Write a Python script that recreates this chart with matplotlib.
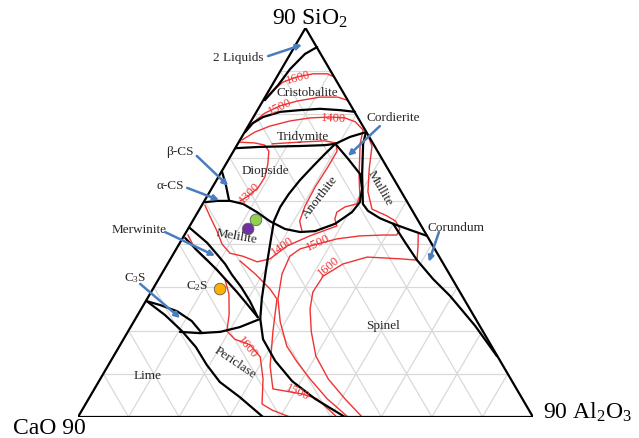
import numpy as np
import matplotlib
matplotlib.use('Agg')
import matplotlib.pyplot as plt

plt.rcParams['font.family'] = ['Liberation Serif', 'DejaVu Serif']
plt.rcParams['mathtext.fontset'] = 'custom'
plt.rcParams['mathtext.rm'] = 'Liberation Serif'
plt.rcParams['mathtext.it'] = 'Liberation Serif:italic'

TOTAL = 90  # each corner is 90 wt%, the rest is MgO

# phase field boundaries as (Al2O3, SiO2) wt%, CaO is the balance
two_liquids = [(4.5, 85.6), (2.9, 84.0), (1.7, 80.5), (1.2, 76.8), (0.3, 73.3)]
cristobalite_tridymite = [(0.1, 65.9), (0.6, 68.0), (1.9, 69.4), (4.7, 70.6), (8.4, 71.0),
                          (12.2, 71.3), (16.3, 71.0), (19.5, 70.6)]
tridymite_base = [(0.1, 62.2), (4.8, 62.5), (12.6, 62.7), (17.4, 62.9), (19.3, 63.2)]
tridymite_cordierite = [(19.3, 63.2), (21.4, 64.8), (24.0, 65.9)]
mullite_left = [(24.0, 65.9), (24.8, 63.2), (28.1, 56.2), (31.7, 49.3), (33.5, 47.7),
                (36.7, 46.0), (40.0, 44.7), (44.0, 43.3), (48.1, 41.9)]
anorthite_melilite = [(19.3, 63.2), (23.6, 59.7), (27.7, 56.2), (29.8, 52.8), (30.9, 49.7),
                      (30.5, 47.4), (28.5, 44.7), (25.4, 43.0), (22.5, 42.8), (19.2, 43.5),
                      (15.3, 45.3), (11.7, 47.4), (8.0, 49.3), (5.1, 50.0), (2.5, 50.0),
                      (0.3, 49.7)]
diopside_spinel = [(19.3, 63.2), (18.4, 60.8), (17.5, 58.1), (16.5, 54.8), (15.9, 51.6),
                   (15.7, 48.6), (16.1, 45.3), (18.0, 40.0), (20.1, 34.2), (22.7, 27.3),
                   (24.7, 22.7), (27.6, 18.0), (32.5, 13.0), (38.2, 8.3), (44.8, 4.2),
                   (52.8, 0.0)]
cs_split = [(0.0, 56.9), (2.4, 53.7), (4.9, 50.0)]
merwinite_top = [(0.3, 43.7), (5.4, 40.3), (8.6, 37.7), (11.4, 35.4), (14.0, 32.9),
                 (17.2, 30.1), (20.6, 26.8), (24.0, 23.1)]
merwinite_bottom = [(0.5, 41.4), (4.2, 38.6), (7.4, 36.3), (10.5, 34.0), (13.7, 31.5),
                    (17.0, 28.9), (20.4, 26.1), (24.0, 23.1)]
c2s_periclase = [(10.3, 19.7), (14.4, 19.4), (18.3, 19.7), (21.6, 20.8), (24.7, 22.7)]
c3s_top = [(0.2, 26.8), (3.3, 25.9), (7.3, 24.5), (11.4, 22.2), (14.8, 19.4)]
lime_periclase = [(0.2, 26.8), (5.4, 23.6), (10.6, 19.9), (15.2, 16.2), (19.5, 12.0),
                  (24.0, 8.1), (29.7, 4.6), (36.6, 0.0)]
corundum_spinel = [(40.0, 44.7), (44.4, 40.5), (48.9, 36.3), (54.3, 31.9), (59.6, 28.0),
                   (68.0, 21.1), (75.8, 14.1)]
boundaries = [two_liquids, cristobalite_tridymite, tridymite_base, tridymite_cordierite,
              mullite_left, anorthite_melilite, diopside_spinel, cs_split, merwinite_top,
              merwinite_bottom, c2s_periclase, c3s_top, lime_periclase, corundum_spinel]

# liquidus isotherms, same units
iso_1600_top = [(0.3, 73.8), (0.7, 75.4), (1.8, 77.5), (4.0, 78.7), (6.8, 79.4), (9.6, 79.4),
                (11.3, 78.7)]
iso_1500_top = [(0.0, 66.9), (0.8, 68.5), (1.8, 70.3), (4.0, 72.0), (6.8, 73.1), (10.8, 74.0),
                (14.4, 74.0), (16.6, 73.3)]
iso_1400 = [(0.4, 64.1), (2.0, 65.9), (4.3, 67.3), (7.7, 68.5), (11.3, 69.2), (15.1, 69.4),
            (18.2, 69.2), (20.7, 68.3), (23.2, 66.4), (24.2, 63.2), (27.7, 55.8), (30.2, 51.1),
            (30.5, 49.3), (28.5, 48.6), (27.5, 47.4), (27.9, 45.8), (29.1, 44.2), (24.9, 41.9),
            (21.6, 39.6), (19.7, 36.6), (17.5, 35.9), (14.0, 37.2), (11.1, 37.9), (8.5, 40.0),
            (6.0, 43.0), (3.0, 46.3), (0.6, 49.0)]
iso_1300 = [(0.0, 63.6), (3.3, 63.4), (5.5, 62.9), (7.0, 61.5), (8.3, 58.5), (9.2, 55.5),
            (9.1, 53.0), (8.1, 51.1), (7.1, 50.0)]
iso_1300_anorthite = [(6.8, 63.2), (12.1, 63.6), (16.9, 63.9), (19.3, 63.4), (20.5, 61.5),
                      (20.5, 57.8), (20.3, 53.2), (20.5, 48.8), (21.2, 45.3), (22.8, 43.0)]
iso_1500 = [(24.3, 65.7), (26.8, 62.7), (28.9, 57.4), (31.3, 52.1), (34.1, 48.1), (37.9, 46.5),
            (40.2, 45.3), (41.9, 43.5), (42.0, 42.1), (39.3, 42.1), (34.8, 41.9), (30.6, 41.2),
            (27.3, 40.0), (24.5, 38.9), (23.3, 37.2), (23.8, 33.1), (25.9, 27.3), (29.0, 22.0),
            (33.1, 16.4), (37.0, 12.7), (41.5, 8.8), (47.2, 4.2), (53.4, 0.0)]
iso_1600 = [(46.0, 42.6), (47.6, 39.3), (48.9, 36.3), (45.4, 36.6), (38.7, 37.0), (34.7, 35.4),
            (32.2, 32.6), (32.0, 28.9), (33.4, 25.0), (36.3, 19.7), (40.0, 14.1), (45.1, 8.8),
            (50.7, 4.2), (56.2, 0.0)]
iso_1600_periclase = [(0.7, 42.1), (3.7, 38.9), (6.8, 36.6), (10.4, 34.2), (13.1, 31.9),
                      (15.6, 28.5), (18.0, 23.8), (19.5, 19.9), (22.0, 18.0), (25.7, 16.7),
                      (29.1, 13.9), (32.2, 8.8), (34.9, 3.0), (37.6, 1.6), (41.9, 0.0)]
iso_1500_periclase = [(14.0, 36.1), (18.5, 33.1), (23.2, 29.6), (25.7, 27.3), (28.7, 19.7),
                      (32.1, 11.8), (35.3, 6.5), (41.8, 5.3), (45.2, 4.2), (51.2, 0.0)]
isotherms = [iso_1600_top, iso_1500_top, iso_1400, iso_1300, iso_1300_anorthite, iso_1500,
             iso_1600, iso_1600_periclase, iso_1500_periclase]

# temperature labels: value, (x, y) position, angle
iso_temps = [1600, 1500, 1400, 1300, 1400, 1500, 1600, 1600, 1500]
iso_label_pos = [(43.5, 78.6, 15), (40.0, 71.9, 25), (50.6, 69.2, -3), (34.0, 52.1, 45),
                 (40.5, 39.6, 35), (47.5, 40.5, 25), (49.5, 34.9, 40), (33.4, 16.2, -50),
                 (43.5, 5.8, -25)]

# sample compositions (Al2O3, SiO2)
samples = [(12.4, 45.6), (11.9, 43.5), (13.3, 29.6)]
sample_colors = ['#92d050', '#7030a0', '#ffb000']


def to_xy(pts):
    a = np.asarray(pts, dtype=float)
    return a[:, 0] + a[:, 1] / 2, a[:, 1]


fig = plt.figure(figsize=(6.39, 4.39), dpi=100)
ax = fig.add_axes([78 / 639, 21 / 439, 455 / 639, 389 / 439])
ax.set_xlim(0, TOTAL)
ax.set_ylim(0, TOTAL)
ax.axis('off')

# grid every 10 wt%
grid_kw = dict(color='#d9d9d9', lw=0.9, zorder=1)
for c in range(10, TOTAL, 10):
    ax.plot([c / 2, TOTAL - c / 2], [c, c], **grid_kw)
    ax.plot([c, c + (TOTAL - c) / 2], [0, TOTAL - c], **grid_kw)
    ax.plot([TOTAL - c, (TOTAL - c) / 2], [0, TOTAL - c], **grid_kw)

for line in isotherms:
    x, y = to_xy(line)
    ax.plot(x, y, color='#f03232', lw=1.0, zorder=2)

for line in boundaries:
    x, y = to_xy(line)
    ax.plot(x, y, color='k', lw=1.6, zorder=3, solid_capstyle='round')

ax.plot([0, TOTAL, TOTAL / 2, 0], [0, 0, TOTAL, 0], color='k', lw=1.6, zorder=3,
        solid_joinstyle='miter')

for t, (x, y, ang) in zip(iso_temps, iso_label_pos):
    ax.text(x, y, str(t), color='#f03232', fontsize=9, rotation=ang,
            rotation_mode='anchor', ha='center', va='center', zorder=4)

sx, sy = to_xy(samples)
ax.scatter(sx, sy, s=70, c=sample_colors, edgecolors='#606060', linewidths=0.6, zorder=5)

# corner labels
ax.text(45.8, 90.9, '90 SiO$_2$', ha='center', va='baseline', fontsize=17)
ax.text(-12.9, -3.6, 'CaO 90', ha='left', va='baseline', fontsize=17)
ax.text(92.0, -0.2, '90 Al$_2$O$_3$', ha='left', va='baseline', fontsize=17)

# phase field names
fields = [('Cristobalite', 45.3, 75.2, 0), ('Tridymite', 44.5, 65.0, 0),
          ('Diopside', 37.0, 57.2, 0), ('Anorthite', 47.9, 51.1, 52),
          ('Mullite', 59.7, 53.2, -60), ('Melilite', 31.4, 41.9, -10),
          ('C$_2$S', 23.5, 30.5, 0), ('Lime', 13.8, 9.7, 0),
          ('Periclase', 31.1, 12.7, -34), ('Spinel', 60.3, 21.3, 0)]
for name, x, y, ang in fields:
    ax.text(x, y, name, fontsize=9.5, rotation=ang, rotation_mode='anchor',
            ha='center', va='center', color='#262626', zorder=4)

# labels pointing at small fields
arrow_blue = '#4a7cc0'
pointers = [('2 Liquids', (31.6, 83.3), (37.6, 83.5), (44.3, 86.1)),
            ('Cordierite', (62.3, 69.4), (59.7, 67.3), (53.4, 60.4)),
            ('β-CS', (20.2, 61.6), (23.5, 60.4), (29.7, 53.5)),
            ('α-CS', (18.2, 53.7), (21.6, 53.0), (27.9, 50.2)),
            ('Merwinite', (12.0, 43.5), (17.2, 42.8), (27.1, 37.3)),
            ('C$_3$S', (11.3, 32.4), (12.3, 30.8), (20.2, 22.9)),
            ('Corundum', (74.8, 44.0), (71.4, 42.8), (69.4, 35.9))]
for name, pos, tail, tip in pointers:
    ax.text(pos[0], pos[1], name, fontsize=9.5, ha='center', va='center',
            color='#262626', zorder=4)
    ax.annotate('', xy=tip, xytext=tail,
                arrowprops=dict(arrowstyle='-|>', color=arrow_blue, lw=1.8,
                                mutation_scale=8, shrinkA=0, shrinkB=0), zorder=4)

fig.savefig('out.png', dpi=100)
